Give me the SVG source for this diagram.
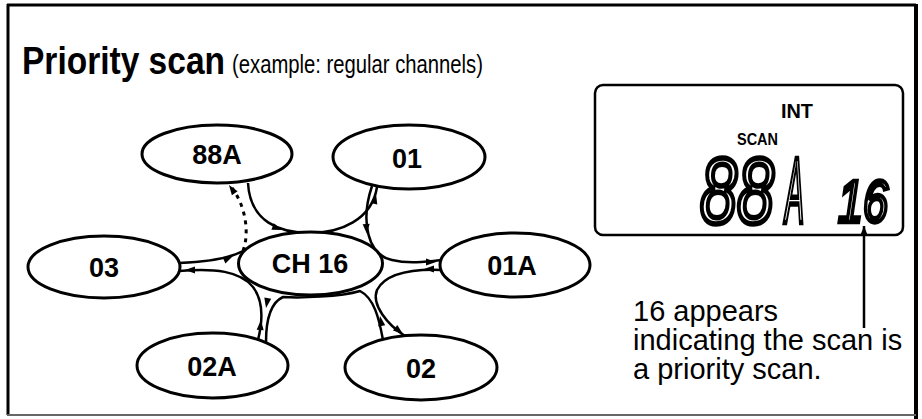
<svg xmlns="http://www.w3.org/2000/svg" width="922" height="419" viewBox="0 0 922 419">
<style>
.node ellipse{fill:#fff;stroke:#000;stroke-width:3}
.node text{font-family:"Liberation Sans",Arial,sans-serif;font-weight:bold;font-size:27px;text-anchor:middle;fill:#000}
.conn path{fill:none;stroke:#000;stroke-width:2.5}
.conn path.dot{stroke-dasharray:4 5;stroke-width:3}
.cap{font-family:"Liberation Sans",Arial,sans-serif;font-size:29px;fill:#000}
.seg{font-family:"Liberation Sans",Arial,sans-serif;font-style:italic;fill:#fff;stroke:#000;stroke-linejoin:miter}
</style>
<defs>
<path id="ah" d="M0,0 L-10,-3.5 L-10,3.5 Z" fill="#000"/>
<marker id="arr" viewBox="0 0 10 10" refX="10" refY="5" markerWidth="10" markerHeight="10" markerUnits="userSpaceOnUse" orient="auto"><path d="M0,1 L10,5 L0,9 Z" fill="#000"/></marker>
</defs>
<rect width="922" height="419" fill="#fff"/>
<g id="frame" fill="none" stroke="#000">
<line x1="7" y1="5" x2="916" y2="5" stroke-width="3"/>
<line x1="8" y1="4" x2="8" y2="415" stroke-width="3"/>
<line x1="916" y1="4" x2="916" y2="419" stroke-width="4"/>
<line x1="7" y1="415" x2="916" y2="415" stroke-width="2" stroke="#666"/>
</g>
<g id="title">
<text x="22" y="74" font-family="'Liberation Sans',Arial,sans-serif" font-weight="bold" font-size="39" textLength="203" lengthAdjust="spacingAndGlyphs">Priority scan</text>
<text x="232" y="73" font-family="'Liberation Sans',Arial,sans-serif" font-size="26" textLength="251" lengthAdjust="spacingAndGlyphs">(example: regular channels)</text>
</g>
<g id="connectors" class="conn">
<path d="M248,183 C250,222 280,233 310,233 C340,233 372,220 377,187"/>
<path d="M372,186 C360,222 368,255 392,260 C408,264 425,262 441,260"/>
<path d="M441,270 C412,269 386,273 377,290 C371,305 388,325 405,336"/>
<path d="M383,340 C379,318 374,298 360,291 C340,297 300,298 283,297 C270,303 266,320 266,342"/>
<path d="M258,340 C263,320 263,300 253,287 C240,271 215,268 179,271"/>
<path d="M179,263 C205,262 228,259 243,251"/>
<path class="dot" d="M243,251 C250,232 245,205 232,188"/>
<use href="#ah" transform="translate(282,230) rotate(20)"/>
<use href="#ah" transform="translate(376,194) rotate(-78)"/>
<use href="#ah" transform="translate(367,234) rotate(85)"/>
<use href="#ah" transform="translate(436,262) rotate(0)"/>
<use href="#ah" transform="translate(403,334) rotate(38)"/>
<use href="#ah" transform="translate(424,269) rotate(180)"/>
<use href="#ah" transform="translate(380,316) rotate(-100)"/>
<use href="#ah" transform="translate(266,308) rotate(100)"/>
<use href="#ah" transform="translate(261,320) rotate(-85)"/>
<use href="#ah" transform="translate(185,270) rotate(180)"/>
<use href="#ah" transform="translate(233,256) rotate(-25)"/>
<use href="#ah" transform="translate(229,185) rotate(-125)"/>
</g>
<g id="n88A" class="node"><ellipse cx="217" cy="154" rx="75" ry="29"/><text x="217" y="164">88A</text></g>
<g id="n01" class="node"><ellipse cx="409" cy="157" rx="76" ry="32"/><text x="407" y="168">01</text></g>
<g id="n03" class="node"><ellipse cx="104" cy="267" rx="76" ry="31"/><text x="104" y="277">03</text></g>
<g id="nCH16" class="node"><ellipse cx="310.5" cy="263.5" rx="72" ry="31.5"/><text x="310" y="273">CH 16</text></g>
<g id="n01A" class="node"><ellipse cx="515" cy="265" rx="75" ry="32"/><text x="512" y="275">01A</text></g>
<g id="n02A" class="node"><ellipse cx="212.5" cy="365.5" rx="75.5" ry="32.5"/><text x="212" y="376">02A</text></g>
<g id="n02" class="node"><ellipse cx="421" cy="367.5" rx="76" ry="32.5"/><text x="421" y="378">02</text></g>
<g id="lcd">
<rect x="595" y="85" width="308" height="150" rx="8" fill="#fff" stroke="#000" stroke-width="2.5"/>
<text x="781" y="118" font-family="'Liberation Sans',Arial,sans-serif" font-weight="bold" font-size="21" textLength="32" lengthAdjust="spacingAndGlyphs">INT</text>
<text x="737" y="145" font-family="'Liberation Sans',Arial,sans-serif" font-weight="bold" font-size="17" textLength="41" lengthAdjust="spacingAndGlyphs">SCAN</text>
<text class="seg" x="700" y="223" font-size="92" stroke-width="5.5"><tspan textLength="74" lengthAdjust="spacingAndGlyphs">88</tspan><tspan x="785" textLength="19" lengthAdjust="spacingAndGlyphs">A</tspan></text>
<text class="seg" x="838" y="222" font-size="60" stroke-width="4.5" textLength="50" lengthAdjust="spacingAndGlyphs">16</text>
</g>
<g id="note">
<line x1="864" y1="328" x2="864" y2="226" stroke="#000" stroke-width="2.5" marker-end="url(#arr)"/>
<text class="cap" x="633" y="321">16 appears</text>
<text class="cap" x="633" y="350">indicating the scan is</text>
<text class="cap" x="633" y="379">a priority scan.</text>
</g>
</svg>
